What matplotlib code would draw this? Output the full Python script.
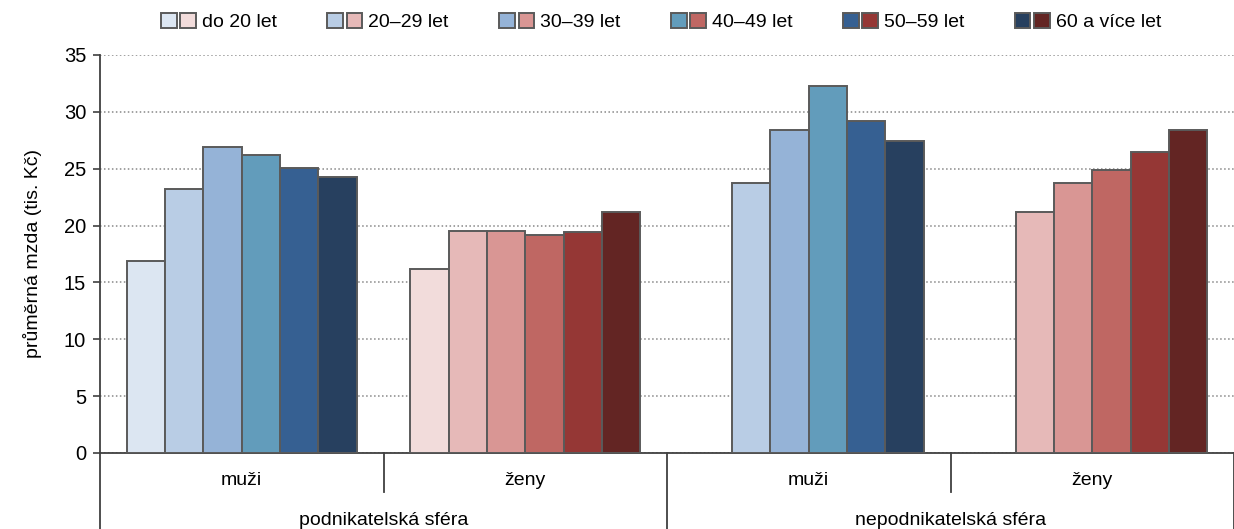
import numpy as np
import matplotlib
matplotlib.use("Agg")
import matplotlib.pyplot as plt
from matplotlib.patches import Patch
from matplotlib.legend_handler import HandlerTuple
import matplotlib.transforms as mtransforms

plt.rcParams['font.family'] = ['Liberation Sans', 'DejaVu Sans']

# data
ages = ["do 20 let", "20\u201329 let", "30\u201339 let", "40\u201349 let", "50\u201359 let", "60 a více let"]
groups = ["muži", "ženy", "muži", "ženy"]
sectors = ["podnikatelská sféra", "nepodnikatelská sféra"]
pod_muzi = [16.9, 23.2, 26.9, 26.2, 25.1, 24.3]
pod_zeny = [16.2, 19.5, 19.5, 19.2, 19.4, 21.2]
nep_muzi = [np.nan, 23.7, 28.4, 32.3, 29.2, 27.4]
nep_zeny = [np.nan, 21.2, 23.7, 24.9, 26.5, 28.4]
values = [pod_muzi, pod_zeny, nep_muzi, nep_zeny]

blues = ["#dce6f2", "#b9cde5", "#95b3d7", "#629cbb", "#366092", "#27405f"]
reds = ["#f2dcdb", "#e6b9b8", "#d99694", "#bf6763", "#953735", "#632523"]
palettes = [blues, reds, blues, reds]
edge = "#5a5a5a"
fs = 14

fig = plt.figure(figsize=(12.34, 5.29), dpi=100)
ax = fig.add_axes([100 / 1234, 76 / 529, 1134 / 1234, 398 / 529])

w = 0.135
for g, vals in enumerate(values):
    for i, v in enumerate(vals):
        if np.isnan(v):
            continue
        x = g + 0.5 + (i - 2.5) * w
        ax.bar(x, v, width=w, color=palettes[g][i], edgecolor=edge, linewidth=1.4, zorder=3)

ax.set_xlim(0, 4)
ax.set_ylim(0, 35)
ax.set_yticks(range(0, 36, 5))
ax.set_xticks([])
ax.tick_params(axis='y', labelsize=fs + 0.5, length=5, width=1.2, color="#404040", pad=5)
ax.yaxis.grid(True, linestyle=(0, (1, 1.6)), color="#888888", linewidth=1.1, zorder=0)
for s in ["top", "right"]:
    ax.spines[s].set_visible(False)
ax.spines["left"].set_color("#404040")
ax.spines["bottom"].set_color("#404040")
ax.spines["left"].set_linewidth(1.3)
ax.spines["bottom"].set_linewidth(1.3)
ax.set_ylabel("průměrná mzda (tis. Kč)", fontsize=fs, labelpad=16)

# category axis below
trans = mtransforms.blended_transform_factory(ax.transData, ax.transAxes)
for x in [1, 3]:
    ax.plot([x, x], [0, -0.098], transform=trans, color="#404040", lw=1.3, clip_on=False)
for x in [0, 2, 4]:
    ax.plot([x, x], [0, -0.2], transform=trans, color="#404040", lw=1.3, clip_on=False)
for g, name in enumerate(groups):
    ax.text(g + 0.5, -0.068, name, transform=trans, ha="center", va="center", fontsize=fs)
for k, name in enumerate(sectors):
    ax.text(2 * k + 1, -0.17, name, transform=trans, ha="center", va="center", fontsize=fs)

handles = [(Patch(facecolor=b, edgecolor=edge, lw=1.4), Patch(facecolor=r, edgecolor=edge, lw=1.4))
           for b, r in zip(blues, reds)]
fig.legend(handles, ages, handler_map={tuple: HandlerTuple(ndivide=None, pad=0.2)},
           loc="center", bbox_to_anchor=(661 / 1234, 1 - 22 / 529), ncol=6, frameon=False,
           fontsize=fs, handlelength=1.8, handleheight=0.85, handletextpad=0.3,
           columnspacing=2.6)

fig.savefig("out.png", dpi=100)
